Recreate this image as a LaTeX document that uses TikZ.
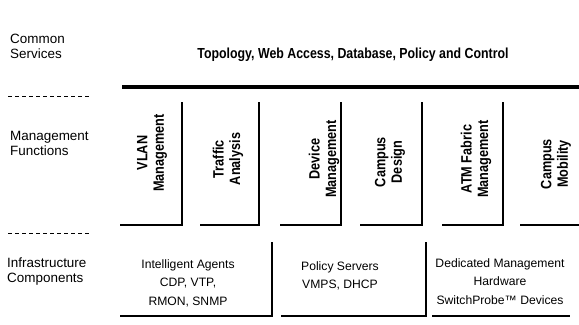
\documentclass[tikz,border=0pt]{standalone}
\usepackage{fontspec}
\setmainfont{Liberation Sans}
\newfontfamily\condfont[FakeStretch=0.85]{Liberation Sans}
\usepackage{tikz}

\tikzset{
	layer/.style={font=\fontsize{13.5}{15}\selectfont, align=left, anchor=north west, inner sep=0pt},
	func/.style={font=\condfont\bfseries\fontsize{15}{16.5}\selectfont, align=center, rotate=90, inner sep=0pt},
	comp/.style={font=\fontsize{12.2}{19}\selectfont, align=center, anchor=north, inner sep=0pt},
	divider/.style={line width=0.8bp, dash pattern=on 4bp off 3bp},
	wall/.style={line width=2.5bp}
}

\begin{document}
\begin{tikzpicture}[x=1bp,y=-1bp]
	\useasboundingbox (0,0) rectangle (579,324);
	
	%LEFT LABELS
	\node[layer] (common) at (10,34) {Common\\Services};
	\node[layer] (mgmt) at (10,131) {Management\\Functions};
	\node[layer] (infra) at (7,258) {Infrastructure\\Components};
	\draw[divider] (8,96)--(92,96);
	\draw[divider] (8,233)--(92,233);
	
	%COMMON SERVICES
	\node[font=\condfont\bfseries\fontsize{14.6}{16}\selectfont, inner sep=0pt, anchor=base] (services) at (353,58) {Topology, Web Access, Database, Policy and Control};
	\draw[line width=3.5bp] (122,87)--(579,87);
	
	%MANAGEMENT COLUMNS
	\draw[wall] (120,225)--(182,225)--(182,102);
	\draw[wall] (200,225)--(259,225)--(259,102);
	\draw[wall] (280,225)--(341,225)--(341,102);
	\draw[wall] (360,225)--(422,225)--(422,102);
	\draw[wall] (442,225)--(503,225)--(503,102);
	\draw[wall] (520,225)--(579,225);
	
	%MANAGEMENT FUNCTIONS
	\node[func] (vlan) at (152,153) {VLAN\\Management};
	\node[func] (traffic) at (228,159) {Traffic\\Analysis};
	\node[func] (device) at (324,159) {Device\\Management};
	\node[func] (design) at (390,162) {Campus\\Design};
	\node[func] (atm) at (476,159) {ATM Fabric\\Management};
	\node[func] (mobility) at (556,164) {Campus\\Mobility};
	
	%INFRASTRUCTURE BOXES
	\draw[wall] (120,316)--(272,316)--(272,242);
	\draw[wall] (281,316)--(426,316)--(426,242);
	\draw[wall] (432,316)--(570,316);
	
	%INFRASTRUCTURE COMPONENTS
	\node[comp] (agents) at (188,259) {Intelligent Agents\\CDP, VTP,\\RMON, SNMP};
	\node[comp] (policy) at (340,261) {Policy Servers\\VMPS, DHCP};
	\node[comp] (hardware) at (500,258) {Dedicated Management\\Hardware\\SwitchProbe\texttrademark\ Devices};
\end{tikzpicture}
\end{document}
